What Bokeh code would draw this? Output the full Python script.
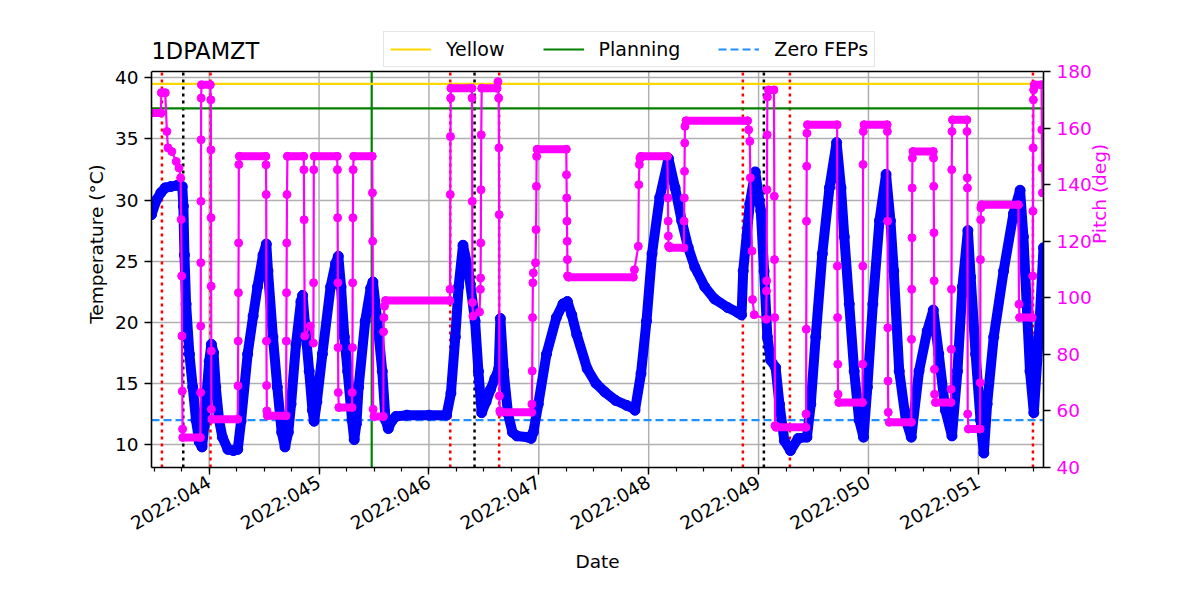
import numpy as np
from bokeh.plotting import figure
from bokeh.models import Range1d, LinearAxis, FixedTicker, Legend, LegendItem, Label
from bokeh.embed import file_html
from bokeh.resources import INLINE

# ---------------- data (day of year 2022) ----------------
temp_time = [43.475, 43.52, 43.56, 43.60, 43.65, 43.71, 43.755, 43.765, 43.775, 43.79,
             43.82, 43.85, 43.88, 43.91, 43.935, 43.955, 43.975, 44.00, 44.02, 44.04,
             44.06, 44.09, 44.12, 44.17, 44.22, 44.26, 44.29, 44.35, 44.40, 44.44,
             44.49, 44.52, 44.535, 44.58, 44.62, 44.66, 44.69, 44.72, 44.745, 44.79,
             44.835, 44.85, 44.87, 44.91, 44.94, 44.955, 44.98, 45.03, 45.105, 45.15,
             45.175, 45.20, 45.23, 45.26, 45.30, 45.32, 45.34, 45.36, 45.42, 45.47,
             45.49, 45.53, 45.575, 45.605, 45.63, 45.66, 45.70, 45.80, 46.00, 46.16,
             46.20, 46.24, 46.27, 46.31, 46.36, 46.42, 46.45, 46.48, 46.52, 46.56,
             46.60, 46.635, 46.65, 46.68, 46.72, 46.76, 46.80, 46.90, 46.93, 46.95,
             46.995, 47.07, 47.16, 47.22, 47.26, 47.30, 47.345, 47.44, 47.52, 47.60,
             47.70, 47.80, 47.87, 47.875, 47.93, 47.98, 48.03, 48.10, 48.18, 48.24,
             48.30, 48.36, 48.42, 48.51, 48.60, 48.72, 48.81, 48.845, 48.86, 48.92,
             48.97, 49.02, 49.05, 49.08, 49.11, 49.155, 49.19, 49.235, 49.29, 49.36,
             49.44, 49.475, 49.52, 49.58, 49.645, 49.71, 49.75, 49.78, 49.825, 49.87,
             49.915, 49.955, 49.99, 50.04, 50.10, 50.16, 50.20, 50.23, 50.28, 50.34,
             50.39, 50.46, 50.535, 50.59, 50.64, 50.70, 50.76, 50.81, 50.855, 50.905,
             50.93, 50.975, 51.02, 51.05, 51.08, 51.14, 51.23, 51.32, 51.38, 51.41,
             51.44, 51.47, 51.505, 51.55, 51.593]
temp_degc = [28.8, 30.0, 30.6, 31.0, 31.1, 31.2, 31.1, 29.5, 25.5, 21.5,
             17.4, 14.7, 12.0, 10.2, 9.8, 11.5, 14.0, 16.8, 18.2, 17.5,
             14.7, 12.0, 10.6, 9.6, 9.5, 9.6, 11.9, 17.4, 20.5, 22.9,
             25.5, 26.4, 24.2, 18.8, 14.7, 11.0, 9.8, 11.0, 13.3, 18.2,
             21.7, 22.2, 20.0, 16.0, 12.8, 11.9, 13.5, 17.4, 22.9, 24.8,
             25.4, 22.9, 18.8, 16.0, 12.0, 10.4, 11.7, 14.7, 20.1, 22.8,
             23.3, 20.1, 16.0, 12.0, 11.3, 11.9, 12.3, 12.4, 12.4, 12.4,
             14.2, 18.8, 22.9, 26.3, 24.2, 20.1, 16.0, 12.6, 13.5, 14.5,
             15.4, 16.2, 20.3, 16.0, 12.5, 11.0, 10.7, 10.6, 10.5, 11.0,
             13.3, 17.4, 20.4, 21.5, 21.7, 20.6, 19.0, 16.2, 15.0, 14.3,
             13.6, 13.2, 12.9, 12.8, 15.8, 20.1, 25.6, 30.2, 33.4, 31.0,
             28.3, 26.1, 24.5, 22.9, 21.9, 21.2, 20.8, 20.6, 24.2, 29.7,
             32.3, 29.1, 24.2, 18.8, 16.9, 16.3, 13.3, 10.3, 9.5, 10.5,
             10.6, 13.3, 18.8, 25.6, 31.0, 34.7, 31.0, 27.0, 21.5, 16.0,
             12.0, 10.6, 14.7, 21.5, 28.3, 32.1, 28.3, 24.2, 16.0, 12.0,
             10.6, 16.0, 19.3, 21.0, 17.4, 12.8, 10.7, 16.0, 22.9, 27.5,
             23.7, 17.4, 12.0, 9.3, 13.3, 18.8, 24.2, 28.9, 30.8, 27.0,
             21.5, 16.0, 12.6, 18.8, 26.1]

pitch_time = [43.475, 43.560, 43.565, 43.600, 43.615, 43.625, 43.660, 43.700, 43.725, 43.740,
              43.745, 43.750, 43.752, 43.755, 43.758, 43.760, 43.920,
              43.922, 43.923, 43.924, 43.925, 43.926, 43.927, 43.930, 44.010,
              44.015, 44.016, 44.017, 44.018, 44.019, 44.020, 44.025, 44.260,
              44.262, 44.264, 44.266, 44.268, 44.270, 44.275, 44.515,
              44.517, 44.519, 44.521, 44.523, 44.525, 44.530, 44.700,
              44.702, 44.704, 44.706, 44.708, 44.712, 44.860,
              44.862, 44.864, 44.870, 44.920, 44.948, 44.950, 44.952, 44.956, 45.165,
              45.167, 45.169, 45.171, 45.173, 45.175, 45.180, 45.300,
              45.302, 45.304, 45.306, 45.308, 45.310, 45.315, 45.484,
              45.486, 45.488, 45.492, 45.500, 45.585,
              45.587, 45.590, 45.595, 45.605, 46.190,
              46.192, 46.194, 46.196, 46.198, 46.200, 46.390,
              46.392, 46.394, 46.396, 46.400, 46.460,
              46.468, 46.470, 46.472, 46.474, 46.476, 46.480, 46.620, 46.628,
              46.635, 46.637, 46.639, 46.641, 46.645, 46.650, 46.935,
              46.937, 46.940, 46.943, 46.946, 46.950, 46.970, 46.975, 46.978, 46.980, 46.985, 47.250,
              47.252, 47.254, 47.256, 47.258, 47.260, 47.262, 47.270, 47.860,
              47.870, 47.905, 47.910, 47.915, 47.920, 47.930, 48.170,
              48.175, 48.177, 48.179, 48.181, 48.190, 48.320,
              48.322, 48.324, 48.326, 48.328, 48.330, 48.340, 48.900,
              48.910, 48.920, 48.925, 48.940, 48.945, 48.960, 49.070,
              49.072, 49.074, 49.076, 49.078, 49.080, 49.090, 49.140,
              49.143, 49.145, 49.147, 49.150, 49.160, 49.430,
              49.432, 49.434, 49.436, 49.438, 49.440, 49.445, 49.715,
              49.717, 49.719, 49.721, 49.723, 49.730, 49.945,
              49.947, 49.949, 49.951, 49.953, 49.960, 50.170,
              50.172, 50.174, 50.176, 50.178, 50.180, 50.190, 50.390,
              50.392, 50.394, 50.396, 50.398, 50.400, 50.405, 50.590,
              50.592, 50.594, 50.596, 50.598, 50.600, 50.602, 50.610, 50.750,
              50.752, 50.754, 50.756, 50.758, 50.760, 50.765, 50.895,
              50.897, 50.899, 50.901, 50.903, 50.910, 51.015,
              51.017, 51.019, 51.021, 51.023, 51.030, 51.365,
              51.370, 51.375, 51.490,
              51.495, 51.497, 51.499, 51.501, 51.503, 51.510, 51.575,
              51.578, 51.581, 51.584, 51.593]
pitch_deg = [165.3, 165.3, 172.5, 172.5, 158.8, 153.0, 151.7, 148.2, 145.9, 142.4,
             127.7, 107.7, 86.5, 67.0, 53.6, 50.6, 50.6,
             66.5, 90.0, 112.4, 134.1, 155.9, 170.6, 175.3, 175.3,
             170.0, 152.3, 128.3, 104.1, 81.2, 60.6, 57.1, 57.1,
             68.9, 84.7, 101.8, 119.4, 147.1, 150.0, 150.0,
             147.0, 136.5, 84.7, 69.0, 60.0, 58.3, 58.3,
             84.7, 101.8, 119.4, 136.5, 150.0, 150.0,
             145.3, 127.6, 86.5, 90.0, 84.0, 105.3, 145.3, 150.0, 150.0,
             145.3, 128.3, 105.3, 82.4, 66.5, 61.2, 61.2,
             66.5, 82.4, 105.3, 128.3, 145.3, 150.0, 150.0,
             137.1, 120.0, 60.6, 58.0, 58.0,
             88.0, 93.0, 97.0, 99.0, 99.0,
             103.0, 136.5, 157.0, 170.6, 174.1, 174.1,
             170.6, 134.1, 98.3, 93.5, 95.0,
             103.0, 107.0, 119.4, 138.2, 157.6, 174.1, 174.1, 176.4,
             170.6, 153.0, 129.4, 65.3, 60.0, 59.5, 59.5,
             62.4, 74.1, 93.0, 105.3, 108.8, 112.4, 124.1, 139.4, 150.0, 152.5, 152.5,
             143.5, 135.3, 127.1, 120.0, 113.5, 107.7, 107.3, 107.3,
             109.9, 118.2, 140.0, 147.1, 149.4, 150.0, 150.0,
             135.3, 127.1, 121.8, 118.2, 117.7, 117.7,
             127.1, 135.3, 144.7, 154.7, 160.6, 162.6, 162.6,
             159.4, 155.3, 142.4, 116.5, 99.4, 94.0, 92.4,
             102.4, 106.0, 138.2, 157.6, 171.0, 173.5, 173.5,
             135.9, 113.5, 93.0, 54.8, 54.2, 54.2,
             58.9, 88.9, 127.1, 146.5, 158.2, 161.2, 161.2,
             111.2, 93.0, 76.5, 65.9, 63.0, 63.0,
             76.5, 111.2, 147.1, 158.8, 161.2, 161.2,
             158.8, 127.1, 89.4, 70.6, 59.5, 56.0, 56.0,
             85.3, 103.0, 121.2, 138.8, 149.4, 151.7, 151.7,
             149.4, 139.4, 123.0, 106.0, 74.7, 65.9, 63.0, 63.0,
             67.7, 81.8, 103.0, 145.3, 158.8, 162.9, 162.9,
             158.8, 142.4, 138.8, 58.9, 53.6, 53.6,
             70.0, 113.5, 127.6, 131.8, 132.9, 132.9,
             97.7, 93.0, 93.0,
             107.7, 130.6, 153.0, 170.0, 173.5, 175.3, 175.3,
             159.4, 145.9, 137.1, 137.1]

limit_names = ["Yellow", "Planning", "Zero FEPs"]
limit_values = [39.5, 37.5, 12.0]

red_times = [43.570, 44.012, 46.194, 46.639, 48.857, 49.285, 51.497]
black_times = [43.764, 46.415, 49.048]
green_times = [45.479]

tick_days = [44, 45, 46, 47, 48, 49, 50, 51]
tick_labels = ["2022:044", "2022:045", "2022:046", "2022:047",
               "2022:048", "2022:049", "2022:050", "2022:051"]
temp_ticks = [10, 15, 20, 25, 30, 35, 40]
pitch_ticks = [40, 60, 80, 100, 120, 140, 160, 180]
title_text = "1DPAMZT"

# ---------------- styling ----------------
FONT = "DejaVu Sans"
FS = "18.5px"
MAGENTA = "#ff00ff"
BLUE = "#0000ff"
X0, X1 = 43.475, 51.593          # x limits of the axes box
T_LO, T_HI = 8.118, 40.515       # temperature limits of the axes box
P_LO, P_HI = 40.0, 180.0         # pitch limits of the axes box
T_TOP = 44.688                   # canvas region above the box (title/legend row)
P_TOP = 198.03

p = figure(width=1184, height=584, output_backend="svg", toolbar_location=None,
           x_range=Range1d(X0, X1), y_range=Range1d(T_LO, T_TOP),
           min_border_left=151, min_border_right=141, min_border_top=20,
           min_border_bottom=117)
p.extra_y_ranges = {"pitch": Range1d(P_LO, P_TOP)}
p.background_fill_color = "white"
p.border_fill_color = "white"
p.outline_line_color = None
p.xgrid.grid_line_color = None
p.ygrid.grid_line_color = "#b0b0b0"
p.ygrid.grid_line_width = 1.5

# axes
xax = p.xaxis[0]
xax.ticker = FixedTicker(ticks=tick_days, minor_ticks=list(np.arange(43.5, 51.6, 0.25)))
xax.major_label_overrides = {d: lab for d, lab in zip(tick_days, tick_labels)}
xax.major_label_orientation = np.pi / 6
xax.axis_label = "Date"
yax = p.yaxis[0]
yax.ticker = FixedTicker(ticks=temp_ticks)
yax.axis_label = "Temperature (°C)"
yax.bounds = (T_LO, T_HI)

rax = LinearAxis(y_range_name="pitch", axis_label="Pitch (deg)")
rax.ticker = FixedTicker(ticks=pitch_ticks)
rax.axis_label_orientation = np.pi / 2
rax.bounds = (P_LO, P_HI)
p.add_layout(rax, "right")

for ax in (xax, yax, rax):
    ax.axis_line_color = "black"
    ax.axis_line_width = 1.6
    ax.major_tick_line_color = "black"
    ax.major_tick_line_width = 1.4
    ax.major_tick_out = 7
    ax.major_tick_in = 0
    ax.minor_tick_in = 0
    ax.major_label_text_font = FONT
    ax.major_label_text_font_size = FS
    ax.major_label_text_color = "black"
    ax.axis_label_text_font = FONT
    ax.axis_label_text_font_size = FS
    ax.axis_label_text_font_style = "normal"
    ax.axis_label_text_color = "black"
    ax.major_label_standoff = 6
for ax in (yax, rax):
    ax.minor_tick_line_color = None
xax.minor_tick_out = 4
xax.minor_tick_line_color = "black"
xax.minor_tick_line_width = 1.2
rax.major_label_text_color = MAGENTA
rax.axis_label_text_color = MAGENTA

# vertical grid lines and top spine of the axes box
p.segment(x0=tick_days, x1=tick_days, y0=T_LO, y1=T_HI, line_color="#b0b0b0",
          line_width=1.5, level="underlay")
p.line([X0, X1], [T_HI, T_HI], line_color="black", line_width=1.6)

# vertical event lines
p.segment(x0=red_times, x1=red_times, y0=T_LO, y1=T_HI, line_color="red",
          line_width=2.5, line_dash="3 4")
p.segment(x0=black_times, x1=black_times, y0=T_LO, y1=T_HI, line_color="black",
          line_width=2.5, line_dash="3 4")
p.segment(x0=green_times, x1=green_times, y0=T_LO, y1=T_HI, line_color="green",
          line_width=2.2)

# limit lines
limit_colors = ["gold", "green", "dodgerblue"]
limit_dashes = ["solid", "solid", "8 4"]
items = []
for name, val, col, dash in zip(limit_names, limit_values, limit_colors, limit_dashes):
    r = p.line([X0, X1], [val, val], line_color=col, line_width=2.2, line_dash=dash)
    items.append(LegendItem(label=name, renderers=[r]))

# temperature
p.line(temp_time, temp_degc, line_color=BLUE, line_width=10,
       line_join="round", line_cap="round")
p.scatter(temp_time, temp_degc, size=10, color=BLUE)

# pitch
hx0, hx1, hy = [], [], []
for i in range(len(pitch_time) - 1):
    if abs(pitch_deg[i + 1] - pitch_deg[i]) < 0.6 and pitch_time[i + 1] - pitch_time[i] > 0.005:
        hx0.append(pitch_time[i]); hx1.append(pitch_time[i + 1]); hy.append(pitch_deg[i])
p.line(pitch_time, pitch_deg, line_color=MAGENTA, line_width=2.2, y_range_name="pitch")
p.segment(x0=hx0, y0=hy, x1=hx1, y1=hy, line_color=MAGENTA, line_width=8,
          line_cap="round", y_range_name="pitch")
p.scatter(pitch_time, pitch_deg, size=8, color=MAGENTA, y_range_name="pitch")

# title
p.add_layout(Label(x=X0, y=42.17, text=title_text, text_font=FONT, text_font_size="22.5px",
                   text_color="black", text_align="left", text_baseline="alphabetic"))

# legend
lg = Legend(items=items, orientation="horizontal", location=(232, 400))
lg.label_text_font = FONT
lg.label_text_font_size = "19px"
lg.label_text_color = "black"
lg.glyph_width = 41
lg.label_standoff = 15
lg.spacing = 38
lg.padding = 6
lg.margin = 0
lg.border_line_color = "#cccccc"
lg.border_line_width = 1.2
lg.background_fill_alpha = 0.9
p.add_layout(lg, "center")

open("out.html", "w").write(file_html(p, INLINE))
